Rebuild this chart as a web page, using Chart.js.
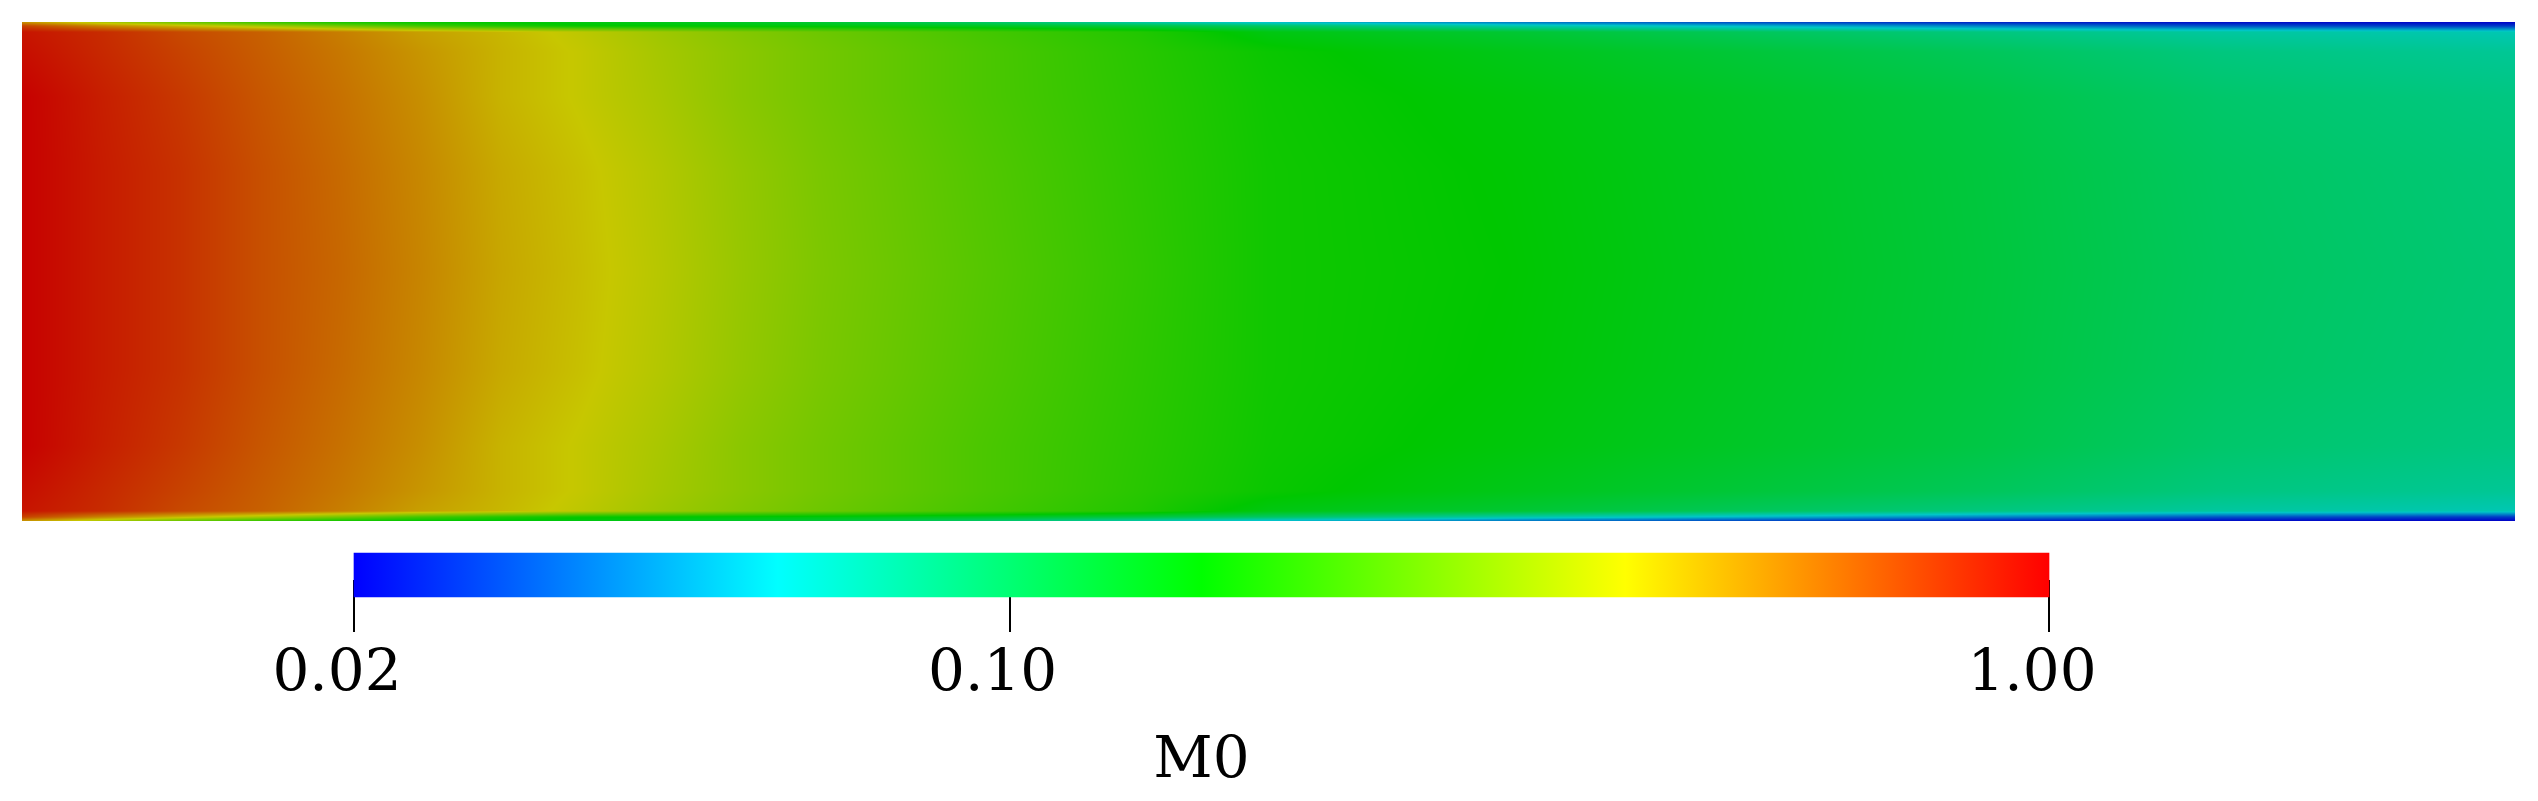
<!DOCTYPE html>
<html>
<head>
<meta charset="utf-8">
<script src="https://cdn.jsdelivr.net/npm/chart.js@4.4.1/dist/chart.umd.min.js"></script>
<style>
  html, body { margin: 0; padding: 0; background: #fff; }
  #wrap { position: relative; width: 2538px; height: 801px; }
  canvas { position: absolute; left: 0; top: 0; }
</style>
</head>
<body>
<div id="wrap">
  <canvas id="field" width="2538" height="801"></canvas>
  <canvas id="bar" width="2538" height="801"></canvas>
</div>
<script>
// stations along the channel (x) and across it (y, 0 = bottom wall, 1 = top wall)
const xStations = [0, 0.16, 0.32, 0.48, 0.64, 0.8, 0.96, 1.12, 1.28, 1.44, 1.6, 1.92, 2.24, 2.5, 2.98, 3.46, 3.94, 4.41, 4.89, 5.0];
const yStations = [0, 0.008, 0.02, 0.06, 0.15, 0.3, 0.5, 0.7, 0.85, 0.94, 0.98, 0.992, 1];

// M0, one row per distance from the wall
const wallRow = [0.494, 0.334, 0.245, 0.193, 0.165, 0.153, 0.148, 0.141, 0.135, 0.127, 0.119, 0.0957, 0.0700, 0.0553, 0.0405, 0.0320, 0.0265, 0.0241, 0.0234, 0.0234];
const row008 = [0.731, 0.535, 0.423, 0.334, 0.264, 0.209, 0.179, 0.158, 0.153, 0.148, 0.144, 0.131, 0.112, 0.0957, 0.0700, 0.0553, 0.0438, 0.0346, 0.0310, 0.0310];
const row02 = [0.910, 0.816, 0.709, 0.635, 0.552, 0.472, 0.423, 0.373, 0.324, 0.286, 0.256, 0.212, 0.179, 0.141, 0.121, 0.100, 0.0844, 0.0722, 0.0668, 0.0657];
const row06 = [0.939, 0.829, 0.731, 0.645, 0.569, 0.494, 0.430, 0.385, 0.334, 0.295, 0.264, 0.219, 0.185, 0.160, 0.137, 0.117, 0.100, 0.0844, 0.0768, 0.0757];
const row15 = [1.000, 0.869, 0.766, 0.666, 0.587, 0.510, 0.430, 0.385, 0.340, 0.295, 0.264, 0.219, 0.187, 0.163, 0.146, 0.127, 0.110, 0.0927, 0.0844, 0.0831];
const row30 = [1.000, 0.882, 0.791, 0.687, 0.606, 0.527, 0.450, 0.404, 0.356, 0.309, 0.273, 0.226, 0.190, 0.165, 0.151, 0.131, 0.114, 0.0972, 0.0884, 0.0871];
const centerRow = [1.000, 0.882, 0.791, 0.687, 0.615, 0.535, 0.457, 0.410, 0.362, 0.314, 0.277, 0.230, 0.193, 0.165, 0.153, 0.133, 0.115, 0.0987, 0.0898, 0.0884];

const fieldRows = [wallRow, row008, row02, row06, row15, row30, centerRow, row30, row15, row06, row02, row008, wallRow];

// colour bar
const cbRange = [0.0234, 1.0];
const cbTicks = [0.0234, 0.1, 1.0];
const cbTitle = "M0";

const logMin = Math.log(cbRange[0]);
const logSpan = Math.log(cbRange[1]) - logMin;
const toT = (v) => (Math.log(v) - logMin) / logSpan;

// hue rainbow, blue (low) -> red (high)
function rainbow(t) {
  t = Math.min(1, Math.max(0, t));
  const h = (240 * (1 - t)) / 60;
  const i = Math.min(4, Math.floor(h));
  const f = h - i;
  if (i === 0) return [1, f, 0];
  if (i === 1) return [1 - f, 1, 0];
  if (i === 2) return [0, 1, f];
  if (i === 3) return [0, 1 - f, 1];
  return [0, 0, 1];
}

function bracket(arr, v) {
  let i = 0;
  while (i < arr.length - 2 && v > arr[i + 1]) i++;
  const f = (v - arr[i]) / (arr[i + 1] - arr[i]);
  return [i, Math.min(1, Math.max(0, f))];
}

const shade = 0.78;

const fieldPlugin = {
  id: "field",
  beforeDatasetsDraw(chart) {
    const { ctx, chartArea: a, scales } = chart;
    const w = Math.round(a.right - a.left);
    const h = Math.round(a.bottom - a.top);
    const tGrid = fieldRows.map((r) => r.map(toT));
    const cols = [];
    for (let px = 0; px < w; px++) {
      cols.push(bracket(xStations, scales.x.getValueForPixel(a.left + px + 0.5)));
    }
    const img = ctx.createImageData(w, h);
    for (let py = 0; py < h; py++) {
      const [j, fy] = bracket(yStations, scales.y.getValueForPixel(a.top + py + 0.5));
      const r0 = tGrid[j], r1 = tGrid[j + 1];
      for (let px = 0; px < w; px++) {
        const [i, fx] = cols[px];
        const lo = r0[i] + (r0[i + 1] - r0[i]) * fx;
        const hi = r1[i] + (r1[i + 1] - r1[i]) * fx;
        const c = rainbow(lo + (hi - lo) * fy);
        const k = (py * w + px) * 4;
        img.data[k] = c[0] * 255 * shade;
        img.data[k + 1] = c[1] * 255 * shade;
        img.data[k + 2] = c[2] * 255 * shade;
        img.data[k + 3] = 255;
      }
    }
    ctx.putImageData(img, a.left, a.top);
  },
};

const points = [];
yStations.forEach((yv, j) => {
  xStations.forEach((xv, i) => points.push({ x: xv, y: yv, v: fieldRows[j][i] }));
});

new Chart(document.getElementById("field").getContext("2d"), {
  type: "scatter",
  data: { datasets: [{ data: points, pointRadius: 0 }] },
  options: {
    responsive: false,
    animation: false,
    devicePixelRatio: 1,
    layout: { padding: { left: 22, right: 23, top: 22, bottom: 280 } },
    plugins: { legend: { display: false }, tooltip: { enabled: false } },
    scales: {
      x: { type: "linear", min: 0, max: 5, display: false },
      y: { type: "linear", min: 0, max: 1, display: false },
    },
  },
  plugins: [fieldPlugin],
});

const serif = { family: "DejaVu Serif", size: 58, lineHeight: 1 };

new Chart(document.getElementById("bar").getContext("2d"), {
  type: "bar",
  data: {
    datasets: [
      {
        data: [{ x: cbRange, y: 0 }],
        barThickness: 44,
        clip: false,
        borderWidth: 0,
        backgroundColor: (c) => {
          const chart = c.chart;
          if (!chart.chartArea) return "#00f";
          const xs = chart.scales.x;
          const g = chart.ctx.createLinearGradient(xs.getPixelForValue(cbRange[0]), 0, xs.getPixelForValue(cbRange[1]), 0);
          g.addColorStop(0, "rgb(0,0,255)");
          g.addColorStop(0.25, "rgb(0,255,255)");
          g.addColorStop(0.5, "rgb(0,255,0)");
          g.addColorStop(0.75, "rgb(255,255,0)");
          g.addColorStop(1, "rgb(255,0,0)");
          return g;
        },
      },
    ],
  },
  options: {
    indexAxis: "y",
    responsive: false,
    animation: false,
    devicePixelRatio: 1,
    layout: { padding: { left: 354, right: 489, top: 570, bottom: 0 } },
    plugins: { legend: { display: false }, tooltip: { enabled: false } },
    scales: {
      y: { type: "linear", min: -1, max: 1, display: false },
      x: {
        type: "logarithmic",
        position: "bottom",
        min: cbRange[0],
        max: cbRange[1],
        z: 1,
        afterBuildTicks: (s) => {
          s.ticks = cbTicks.map((v) => ({ value: v }));
        },
        afterFit: (s) => {
          s.height = 221;
        },
        border: { display: false },
        grid: { drawOnChartArea: false, drawTicks: true, tickLength: 52, color: "#000", lineWidth: 2 },
        ticks: {
          color: "#000",
          font: serif,
          padding: 14,
          labelOffset: -17,
          maxRotation: 0,
          autoSkip: false,
          callback: (v) => Number(v).toFixed(2),
        },
        title: { display: true, text: cbTitle, color: "#000", font: serif, padding: { top: 0, bottom: 10 } },
      },
    },
  },
});
</script>
</body>
</html>
